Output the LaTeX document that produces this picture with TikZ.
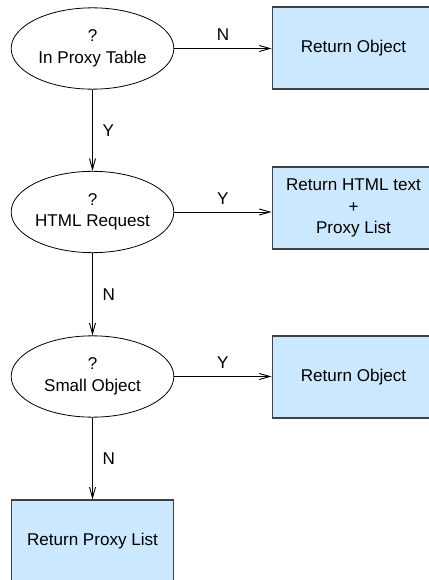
\documentclass[tikz,border=0pt]{standalone}
\usepackage{fontspec}
\setmainfont{Liberation Sans}
\usetikzlibrary{shapes.geometric,arrows.meta}
\definecolor{boxblue}{RGB}{204,232,255}
\begin{document}
\begin{tikzpicture}
		[x=0.75pt,y=-0.75pt,
		font=\fontsize{12.8pt}{16.2pt}\selectfont,
		test/.style={ellipse,draw,line width=0.6pt,
			minimum width=122pt,minimum height=61pt,
			inner sep=0pt,align=center},
		result/.style={rectangle,draw=black!75,line width=0.8pt,fill=boxblue,
			minimum width=122pt,minimum height=61.5pt,
			inner sep=0pt,align=center},
		flow/.style={line width=0.7pt,
			-{Straight Barb[length=8pt,width=4.5pt,line width=0.7pt]}}]
		\useasboundingbox (0,0) rectangle (428,580);
		\node[test] (q1) at (92.5,48.5) {?\\In Proxy Table};
		\node[test] (q2) at (92.5,212) {?\\HTML Request};
		\node[test] (q3) at (92.5,376.5) {?\\Small Object};
		\node[result] (r1) at (353.5,48) {Return Object};
		\node[result] (r2) at (353.5,208) {Return HTML text\\+\\Proxy List};
		\node[result] (r3) at (353.5,377) {Return Object};
		\node[result] (r4) at (92.5,541) {Return Proxy List};
		\draw[flow] (q1.east) -- node[above=2pt] {N} (q1.east -| r1.west);
		\draw[flow] (q2.east) -- node[above=2pt] {Y} (q2.east -| r2.west);
		\draw[flow] (q3.east) -- node[above=2pt] {Y} (q3.east -| r3.west);
		\draw[flow] (q1) -- node[right=4pt] {Y} (q2);
		\draw[flow] (q2) -- node[right=4pt] {N} (q3);
		\draw[flow] (q3) -- node[right=4pt] {N} (r4);
	\end{tikzpicture}
\end{document}
